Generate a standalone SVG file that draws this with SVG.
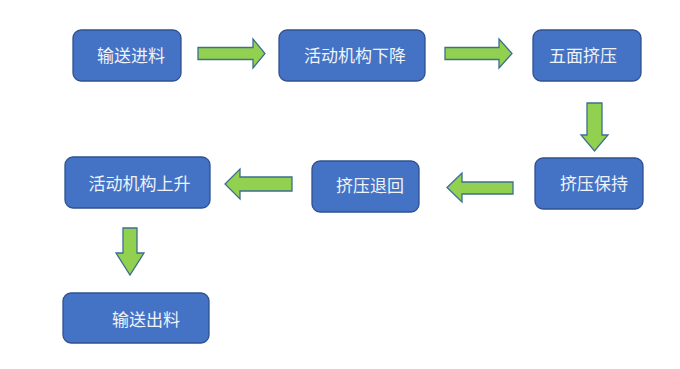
<svg xmlns="http://www.w3.org/2000/svg" width="680" height="369" viewBox="0 0 680 369">
<style>
.box{fill:#4472C4;stroke:#2F528F;stroke-width:1.3}
.lbl{font-family:"Noto Sans CJK SC","Liberation Sans",sans-serif;font-size:17px;fill:#EEF2FA;text-anchor:middle}
.arr{fill:#92D050;stroke:#3E6F8F;stroke-width:1.3;stroke-linejoin:miter}
</style>
<rect width="680" height="369" fill="#FFFFFF"/>
<g id="n1"><rect class="box" x="73" y="30" width="108" height="51" rx="8"/><text class="lbl" x="131" y="62">输送进料</text></g>
<g id="n2"><rect class="box" x="279" y="30" width="146" height="51" rx="8"/><text class="lbl" x="355" y="62">活动机构下降</text></g>
<g id="n3"><rect class="box" x="533" y="30" width="108" height="51" rx="8"/><text class="lbl" x="583" y="62">五面挤压</text></g>
<g id="n4"><rect class="box" x="535" y="158" width="108" height="51" rx="8"/><text class="lbl" x="594" y="190">挤压保持</text></g>
<g id="n5"><rect class="box" x="312" y="161" width="107" height="51" rx="8"/><text class="lbl" x="370" y="192">挤压退回</text></g>
<g id="n6"><rect class="box" x="65" y="157" width="145" height="51" rx="8"/><text class="lbl" x="139.5" y="190">活动机构上升</text></g>
<g id="n7"><rect class="box" x="63" y="293" width="146" height="50" rx="8"/><text class="lbl" x="146" y="326">输送出料</text></g>
<g id="connectors">
<polygon class="arr" points="198,47.5 253,47.5 253,39 265,53.5 253,68 253,59.5 198,59.5"/>
<polygon class="arr" points="445,47.5 499,47.5 499,39 512,53.5 499,68 499,59.5 445,59.5"/>
<polygon class="arr" points="587,103 602,103 602,135 608,135 594.5,151 581,135 587,135"/>
<polygon class="arr" points="513,182 462,182 462,173 447,187.5 462,202 462,194 513,194"/>
<polygon class="arr" points="292,177 240,177 240,169 225,184 240,199 240,191 292,191"/>
<polygon class="arr" points="123,228 137,228 137,253 144,253 130,275 116,253 123,253"/>
</g>
</svg>
